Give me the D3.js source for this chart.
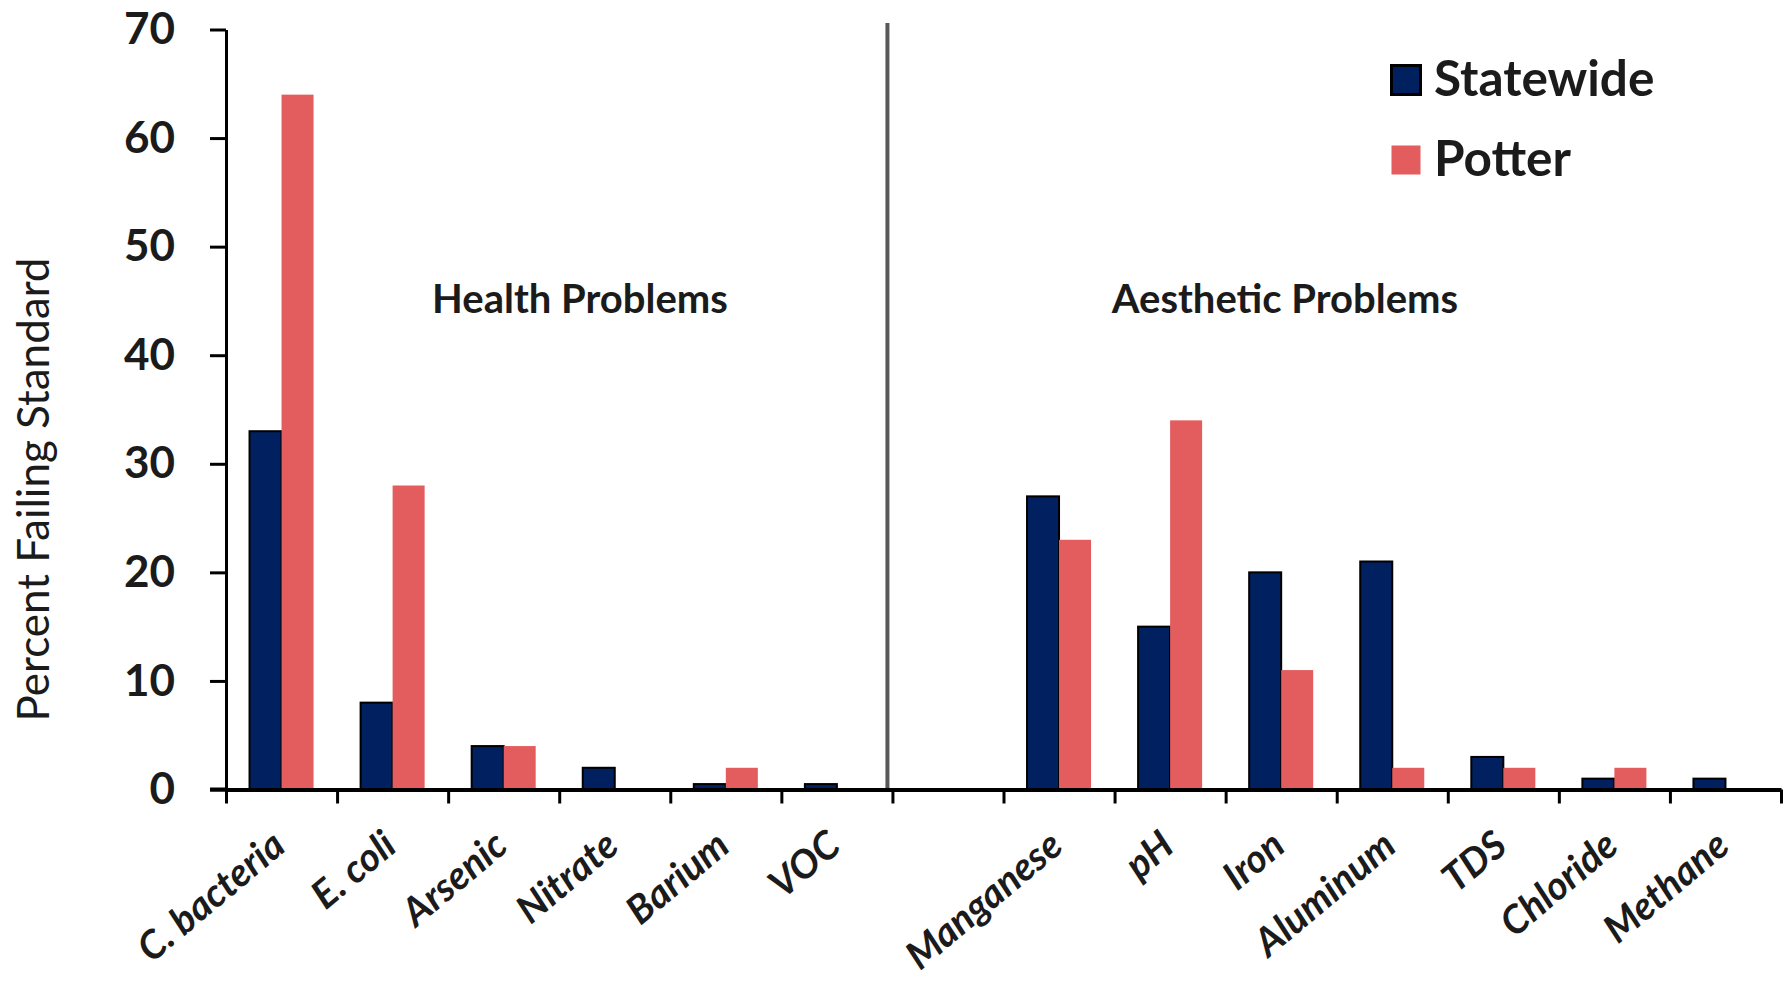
<!DOCTYPE html>
<html>
<head>
<meta charset="utf-8">
<script src="https://cdn.jsdelivr.net/npm/d3@7"></script>
<style>
  html, body { margin: 0; padding: 0; background: #ffffff; }
  svg { display: block; }
  text { font-family: Lato, "Open Sans", sans-serif; fill: #1b1b1b; }
</style>
</head>
<body>
<svg id="chart" width="1791" height="981"></svg>
<script>
// Well-water test results: share of samples failing each drinking-water standard
const categories = ["C. bacteria", "E. coli", "Arsenic", "Nitrate", "Barium", "VOC", "",
                    "Manganese", "pH", "Iron", "Aluminum", "TDS", "Chloride", "Methane"];
const statewide = [33, 8, 4, 2, 0.5, 0.5, null, 27, 15, 20, 21, 3, 1, 1];
const potter    = [64, 28, 4, 0, 2, 0, null, 23, 34, 11, 2, 2, 2, 0];
const seriesNames = ["Statewide", "Potter"];
const yTicks = [0, 10, 20, 30, 40, 50, 60, 70];
const groupLabels = ["Health Problems", "Aesthetic Problems"];
const yTitle = "Percent Failing Standard";

const colors = { Statewide: "#002060", Potter: "#E35D5F" };

const W = 1791, H = 981;
const plot = { left: 226, right: 1781, top: 29.5, bottom: 789.5 };

const svg = d3.select("#chart");

const x = d3.scaleBand()
  .domain(d3.range(categories.length))
  .range([plot.left, plot.right])
  .paddingInner(0).paddingOuter(0);

const xInner = d3.scaleBand()
  .domain(seriesNames)
  .range([0, x.bandwidth()])
  .paddingInner(0).paddingOuter(0.735);

const y = d3.scaleLinear().domain([0, 70]).range([plot.bottom, plot.top]);

// Rows of {category index, series, value}
const rows = [];
categories.forEach((c, i) => {
  if (statewide[i] != null) rows.push({ i, s: "Statewide", v: statewide[i] });
  if (potter[i] != null) rows.push({ i, s: "Potter", v: potter[i] });
});

// Bars
svg.append("g").selectAll("rect")
  .data(rows.filter(d => d.v > 0))
  .join("rect")
  .attr("x", d => x(d.i) + xInner(d.s))
  .attr("width", xInner.bandwidth())
  .attr("y", d => y(d.v))
  .attr("height", d => y(0) - y(d.v))
  .attr("fill", d => colors[d.s])
  .attr("stroke", d => d.s === "Statewide" ? "#000" : "none")
  .attr("stroke-width", 2);

// Divider between health and aesthetic groups
const divX = x(6) - 5;
svg.append("line")
  .attr("x1", divX).attr("x2", divX)
  .attr("y1", 23).attr("y2", plot.bottom)
  .attr("stroke", "#595959").attr("stroke-width", 4);

// Y axis
const yAxis = svg.append("g")
  .attr("transform", `translate(${plot.left},0)`)
  .call(d3.axisLeft(y).tickValues(yTicks).tickSize(16).tickPadding(35).tickSizeOuter(0));
yAxis.select(".domain").attr("stroke", "#000").attr("stroke-width", 3);
yAxis.selectAll(".tick line").attr("stroke", "#000").attr("stroke-width", 3);
yAxis.selectAll(".tick text")
  .attr("font-family", "Lato, sans-serif")
  .attr("font-weight", 700)
  .attr("font-size", 44)
  .attr("fill", "#1b1b1b");

// X axis: ticks on category boundaries
const xb = d3.scaleLinear().domain([0, categories.length]).range([plot.left, plot.right]);
const xAxis = svg.append("g")
  .attr("transform", `translate(0,${plot.bottom})`)
  .call(d3.axisBottom(xb).tickValues(d3.range(categories.length + 1)).tickSize(14)
    .tickFormat("").tickSizeOuter(0));
xAxis.select(".domain").attr("stroke", "#000").attr("stroke-width", 4);
xAxis.selectAll(".tick line").attr("stroke", "#000").attr("stroke-width", 3);
// extend baseline left under the zero tick
svg.append("line")
  .attr("x1", plot.left - 16).attr("x2", plot.left)
  .attr("y1", plot.bottom).attr("y2", plot.bottom)
  .attr("stroke", "#000").attr("stroke-width", 4);

// Category labels, rotated
svg.append("g").selectAll("text")
  .data(categories.map((c, i) => ({ c, i })).filter(d => d.c))
  .join("text")
  .attr("transform", d => `translate(${x(d.i) + x.bandwidth() / 2 + 6},${plot.bottom + 60}) rotate(-40)`)
  .attr("text-anchor", "end")
  .attr("font-weight", 700)
  .attr("font-style", "italic")
  .attr("font-size", 39)
  .text(d => d.c);

// Y axis title
svg.append("text")
  .attr("transform", `translate(49,${(plot.top + plot.bottom) / 2 + 80}) rotate(-90)`)
  .attr("text-anchor", "middle")
  .attr("font-size", 44)
  .attr("font-weight", 400)
  .text(yTitle);

// Group annotations
svg.append("text")
  .attr("x", 580).attr("y", 313)
  .attr("text-anchor", "middle")
  .attr("font-weight", 700).attr("font-size", 40)
  .text(groupLabels[0]);
svg.append("text")
  .attr("x", 1285).attr("y", 313)
  .attr("text-anchor", "middle")
  .attr("font-weight", 700).attr("font-size", 40)
  .text(groupLabels[1]);

// Legend
const legend = svg.append("g").attr("transform", "translate(1391,65)");
seriesNames.forEach((s, k) => {
  const g = legend.append("g").attr("transform", `translate(0,${k * 80})`);
  g.append("rect")
    .attr("x", 0.5).attr("y", 0.5)
    .attr("width", 29).attr("height", 29)
    .attr("fill", colors[s])
    .attr("stroke", s === "Statewide" ? "#000" : "none")
    .attr("stroke-width", 3);
  g.append("text")
    .attr("x", 43).attr("y", 30.5)
    .attr("font-weight", 700).attr("font-size", 49.5)
    .text(s);
});
</script>
</body>
</html>
